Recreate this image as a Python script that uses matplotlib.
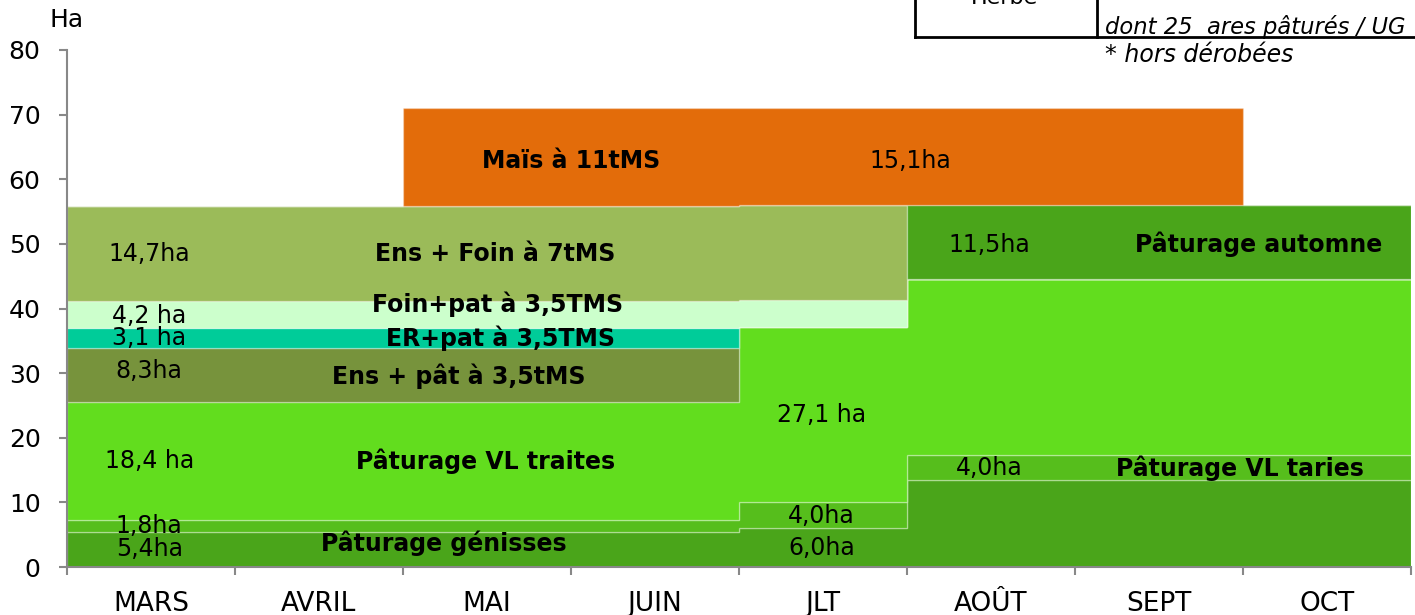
# Assolement : calendrier des surfaces (Ha) par mois
import matplotlib
matplotlib.use('Agg')
import matplotlib.pyplot as plt
from matplotlib.lines import Line2D
import numpy as np

mois = ['MARS', 'AVRIL', 'MAI', 'JUIN', 'JLT', 'AOÛT', 'SEPT', 'OCT']

# surfaces en ha, une valeur par mois (couches empilées de bas en haut)
genisses = [5.4, 5.4, 5.4, 5.4, 6.0, 13.4, 13.4, 13.4]
paturage_2 = [1.8, 1.8, 1.8, 1.8, 4.0, 4.0, 4.0, 4.0]
vl_traites = [18.4, 18.4, 18.4, 18.4, 27.1, 27.1, 27.1, 27.1]
ens_pat = [8.3, 8.3, 8.3, 8.3, 0, 0, 0, 0]
er_pat = [3.1, 3.1, 3.1, 3.1, 0, 0, 0, 0]
foin_pat = [4.2, 4.2, 4.2, 4.2, 4.2, 0, 0, 0]
ens_foin = [14.7, 14.7, 14.7, 14.7, 14.7, 0, 0, 0]
automne = [0, 0, 0, 0, 0, 11.5, 11.5, 11.5]
mais = [0, 0, 15.1, 15.1, 15.1, 15.1, 15.1, 0]

couches = [genisses, paturage_2, vl_traites, ens_pat, er_pat,
           foin_pat, ens_foin, automne, mais]
couleurs = ['#4AA51A', '#56BE1C', '#62DD1E', '#77933C', '#00CC99',
            '#CCFFCC', '#9BBB59', '#4AA51A', '#E36C0A']

# étiquettes : (texte, mois, ha, gras)
etiquettes = [
    ('14,7ha', 0.49, 48.5, False), ('Ens + Foin à 7tMS', 2.55, 48.5, True),
    ('4,2 ha', 0.49, 38.9, False), ('Foin+pat à 3,5TMS', 2.56, 40.6, True),
    ('3,1 ha', 0.49, 35.4, False), ('ER+pat à 3,5TMS', 2.58, 35.4, True),
    ('8,3ha', 0.49, 30.3, False), ('Ens + pât à 3,5tMS', 2.33, 29.5, True),
    ('18,4 ha', 0.49, 16.4, False), ('Pâturage VL traites', 2.49, 16.4, True),
    ('1,8ha', 0.49, 6.3, False), ('5,4ha', 0.49, 2.8, False),
    ('Pâturage génisses', 2.24, 3.7, True),
    ('Maïs à 11tMS', 3.0, 62.9, True), ('15,1ha', 5.02, 62.9, False),
    ('27,1 ha', 4.49, 23.5, False), ('4,0ha', 4.49, 7.9, False),
    ('6,0ha', 4.49, 2.9, False),
    ('11,5ha', 5.49, 49.9, False), ('Pâturage automne', 7.09, 49.9, True),
    ('4,0ha', 5.49, 15.3, False), ('Pâturage VL taries', 6.98, 15.3, True),
]

fig = plt.figure(figsize=(14.15, 6.15), dpi=100)
ax = fig.add_axes([0.0473, 0.078, 0.95, 0.8407])

x = np.arange(len(mois) + 1)
bas = np.zeros(len(mois))
for vals, c in zip(couches, couleurs):
    vals = np.array(vals, dtype=float)
    ax.stairs(bas + vals, x, baseline=bas, fill=True, facecolor=c,
              edgecolor=(1, 1, 1, 0.3), linewidth=1)
    bas = bas + vals

for txt, xm, yh, gras in etiquettes:
    ax.text(xm, yh, txt, ha='center', va='center', fontsize=17,
            fontweight='bold' if gras else 'normal')

ax.set_xlim(0, 8)
ax.set_ylim(0, 80)
ax.set_yticks(range(0, 81, 10))
ax.set_xticks(range(0, 9))
ax.set_xticklabels([])
ax.set_xticks(np.arange(8) + 0.5, minor=True)
ax.set_xticklabels(mois, minor=True)
ax.tick_params(axis='x', which='minor', length=0, pad=17, labelsize=19)
ax.tick_params(axis='x', which='major', length=6, color='#888888', width=1.5)
ax.tick_params(axis='y', length=6, color='#888888', width=1.5, pad=13, labelsize=18)
for s in ['top', 'right']:
    ax.spines[s].set_visible(False)
for s in ['left', 'bottom']:
    ax.spines[s].set_color('#888888')
    ax.spines[s].set_linewidth(1.5)

fig.text(0.035, 0.967, 'Ha', fontsize=18, ha='left', va='center')

# tableau coupé en haut à droite
for xs, ys in [([0.6466, 0.6466], [1.0, 0.94]), ([0.6466, 1.0], [0.94, 0.94]),
               ([0.7753, 0.7753], [1.0, 0.94])]:
    fig.add_artist(Line2D(xs, ys, color='black', linewidth=2))
fig.text(0.71, 1 - 4 / 615, 'Herbe', fontsize=16, ha='center', va='baseline')
fig.text(0.781, 1 - 27 / 615, 'dont 25  ares pâturés / UG', fontsize=16.3,
         style='italic', ha='left', va='center')
fig.text(0.781, 1 - 55 / 615, '* hors dérobées', fontsize=17,
         style='italic', ha='left', va='center')

fig.savefig('out.png', dpi=100)
